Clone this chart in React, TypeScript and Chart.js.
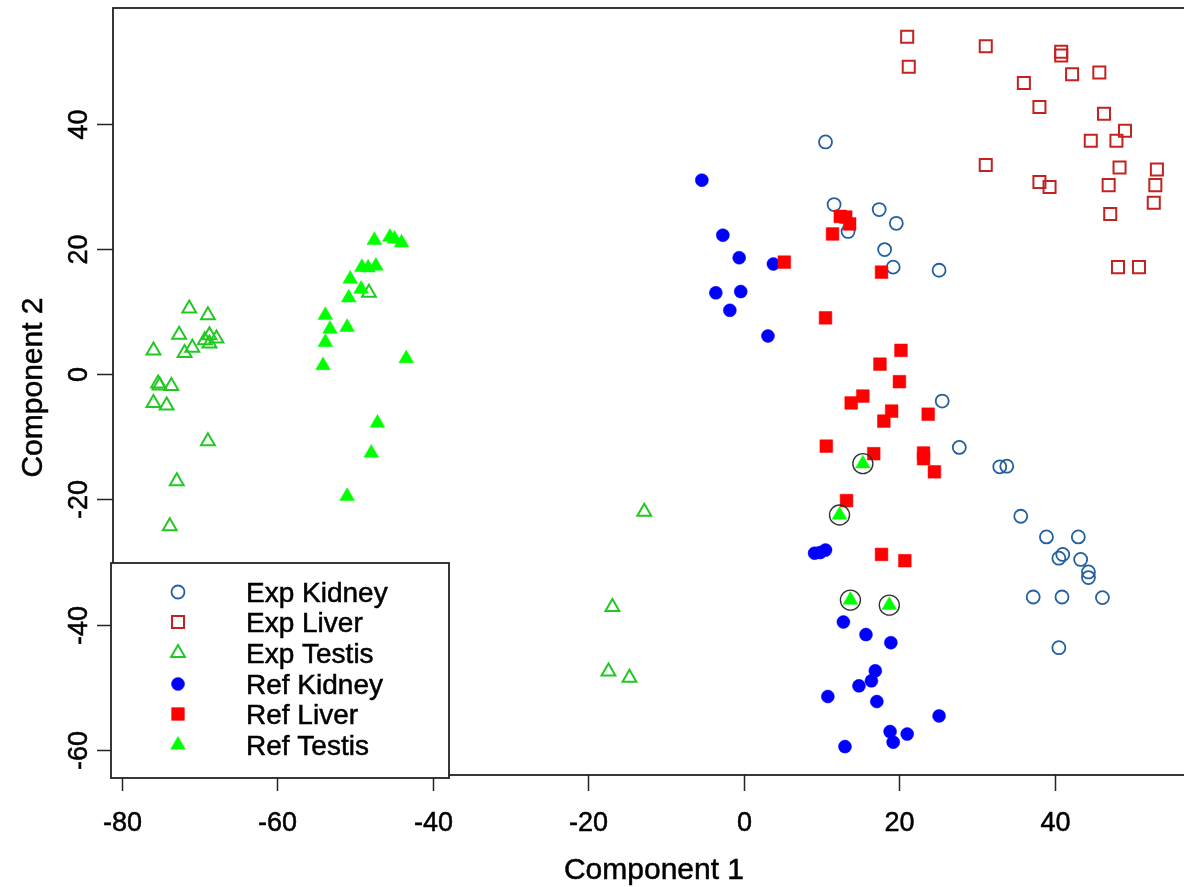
import React, { useEffect, useRef } from 'react';
import { Chart, registerables } from 'chart.js';
import { drawPoint } from 'chart.js/helpers';

Chart.register(...registerables);

// Axis ticks
const X_TICKS = [-80, -60, -40, -20, 0, 20, 40];
const Y_TICKS = [-60, -40, -20, 0, 20, 40];
const X_RANGE = [-81.1, 58.0];
const Y_RANGE = [-64.04, 58.5];

// Experimental samples
const expKidneyX = [10.5, 11.6, 13.4, 17.4, 19.6, 18.1, 19.2, 25.1, 25.5, 27.7, 32.9, 33.8, 35.6, 38.9, 43.0, 40.5, 41.0, 43.3, 44.3, 44.3, 37.2, 40.9, 46.1, 40.5];
const expKidneyY = [37.1, 27.1, 22.8, 26.3, 24.1, 19.9, 17.1, 16.6, -4.3, -11.7, -14.8, -14.7, -22.7, -26.0, -26.0, -29.4, -28.8, -29.6, -31.6, -32.5, -35.6, -35.6, -35.7, -43.7];

const expLiverX = [21.0, 21.2, 31.1, 40.8, 40.8, 42.2, 45.7, 36.0, 38.0, 46.3, 49.0, 44.6, 47.9, 48.3, 53.1, 31.1, 38.0, 39.3, 46.9, 52.9, 52.7, 47.1, 48.1, 50.8];
const expLiverY = [53.9, 49.1, 52.4, 51.5, 50.9, 47.9, 48.2, 46.5, 42.7, 41.6, 38.9, 37.3, 37.3, 33.0, 32.7, 33.4, 30.7, 29.9, 30.2, 30.2, 27.4, 25.6, 17.1, 17.1];

const expTestisX = [-71.3, -68.9, -72.6, -68.7, -67.8, -69.3, -68.7, -70.9, -71.9, -75.9, -75.3, -75.1, -73.6, -75.9, -74.2, -68.9, -72.9, -73.8, -48.2, -12.8, -16.9, -17.4, -14.7];
const expTestisY = [10.5, 9.4, 6.3, 6.2, 5.7, 5.4, 4.9, 4.2, 3.4, 3.8, -1.5, -1.8, -1.9, -4.6, -5.0, -10.7, -17.1, -24.3, 13.0, -22.0, -37.2, -47.5, -48.5];

// Reference samples
const refKidneyX = [-5.4, -2.7, -0.6, 3.8, -3.6, -0.4, -1.8, 3.1, 9.1, 9.8, 10.5, 12.8, 15.7, 18.9, 16.9, 16.4, 14.8, 10.8, 17.1, 25.1, 18.8, 21.0, 19.2, 13.0];
const refKidneyY = [31.0, 22.2, 18.6, 17.6, 13.0, 13.2, 10.2, 6.1, -28.6, -28.5, -28.1, -39.6, -41.6, -42.9, -47.4, -49.0, -49.8, -51.5, -52.3, -54.6, -57.1, -57.5, -58.8, -59.5];

const refLiverX = [12.4, 13.1, 13.6, 11.4, 5.2, 17.7, 10.5, 20.2, 17.5, 20.0, 15.3, 13.8, 19.0, 18.0, 23.7, 10.6, 16.7, 23.1, 23.1, 24.5, 13.2, 17.7, 20.7];
const refLiverY = [25.2, 25.1, 24.0, 22.4, 17.9, 16.3, 9.0, 3.8, 1.6, -1.2, -3.5, -4.6, -5.9, -7.5, -6.4, -11.5, -12.7, -12.6, -13.5, -15.6, -20.2, -28.8, -29.8];

const refTestisX = [-47.5, -45.5, -44.9, -44.0, -49.1, -48.3, -47.3, -50.6, -49.2, -50.8, -53.8, -53.2, -51.0, -53.8, -54.1, -43.4, -47.1, -47.9, -51.0, 15.3, 12.3, 13.7, 18.7];
const refTestisY = [21.4, 21.9, 21.6, 21.0, 17.1, 17.0, 17.3, 15.2, 13.6, 12.2, 9.4, 7.2, 7.5, 5.1, 1.4, 2.5, -7.8, -12.6, -19.5, -14.3, -22.5, -36.1, -36.9];

// Reference testis samples that fall inside the kidney/liver cloud (ringed)
const ringedIdx = [19, 20, 21, 22];

const LEGEND_LABELS = ['Exp Kidney', 'Exp Liver', 'Exp Testis', 'Ref Kidney', 'Ref Liver', 'Ref Testis'];

const C_EXP_KIDNEY = '#2360a0';
const C_EXP_LIVER = '#c42121';
const C_EXP_TESTIS = '#22c822';
const C_REF_KIDNEY = '#0000ff';
const C_REF_LIVER = '#ff0000';
const C_REF_TESTIS = '#00ff00';

const FONT = '"Liberation Sans", Arial, Helvetica, sans-serif';

const pts = (xs: number[], ys: number[]) => xs.map((x, i) => ({ x, y: ys[i] }));

const legendStyles = [
  { pointStyle: 'circle', radius: 6.5, fill: 'rgba(0,0,0,0)', stroke: C_EXP_KIDNEY, lw: 1.8 },
  { pointStyle: 'rect', radius: 8.5, fill: 'rgba(0,0,0,0)', stroke: C_EXP_LIVER, lw: 2 },
  { pointStyle: 'triangle', radius: 8, fill: 'rgba(0,0,0,0)', stroke: C_EXP_TESTIS, lw: 2 },
  { pointStyle: 'circle', radius: 6.5, fill: C_REF_KIDNEY, stroke: C_REF_KIDNEY, lw: 0.5 },
  { pointStyle: 'rect', radius: 9, fill: C_REF_LIVER, stroke: C_REF_LIVER, lw: 0.5 },
  { pointStyle: 'triangle', radius: 8.5, fill: C_REF_TESTIS, stroke: C_REF_TESTIS, lw: 0.5 },
];

// Draws a string with a faint outline so it reads slightly heavier
const heavyText = (ctx: CanvasRenderingContext2D, s: string, x: number, y: number) => {
  ctx.lineWidth = 0.5;
  ctx.strokeStyle = '#000';
  ctx.strokeText(s, x, y);
  ctx.fillText(s, x, y);
};

const framePlugin = {
  id: 'framePlugin',
  afterDraw(chart: any) {
    const { ctx, chartArea: a, scales } = chart;
    const xs = scales.x;
    const ys = scales.y;
    ctx.save();

    // plot box
    ctx.strokeStyle = '#222';
    ctx.lineWidth = 1.8;
    ctx.strokeRect(a.left, a.top, a.right - a.left, a.bottom - a.top);

    // x axis ticks and labels
    ctx.fillStyle = '#000';
    ctx.font = `27px ${FONT}`;
    ctx.textAlign = 'center';
    ctx.textBaseline = 'alphabetic';
    X_TICKS.forEach((v) => {
      const px = Math.round(xs.getPixelForValue(v)) + 0.5;
      ctx.strokeStyle = '#222';
      ctx.lineWidth = 1.5;
      ctx.beginPath();
      ctx.moveTo(px, a.bottom);
      ctx.lineTo(px, a.bottom + 16);
      ctx.stroke();
      heavyText(ctx, String(v), px, 831);
    });

    // y axis ticks and rotated labels
    Y_TICKS.forEach((v) => {
      const py = Math.round(ys.getPixelForValue(v)) + 0.5;
      ctx.strokeStyle = '#222';
      ctx.lineWidth = 1.5;
      ctx.beginPath();
      ctx.moveTo(a.left - 16, py);
      ctx.lineTo(a.left, py);
      ctx.stroke();
      ctx.save();
      ctx.translate(77, py);
      ctx.rotate(-Math.PI / 2);
      heavyText(ctx, String(v), 0, 10);
      ctx.restore();
    });

    // axis titles
    ctx.font = `30px ${FONT}`;
    heavyText(ctx, 'Component 1', (a.left + a.right) / 2, 879);
    ctx.save();
    ctx.translate(42, (a.top + a.bottom) / 2 - 4);
    ctx.rotate(-Math.PI / 2);
    heavyText(ctx, 'Component 2', 0, 0);
    ctx.restore();

    // legend
    const lx = 111, ly = 563, lw = 338, lh = 215;
    ctx.fillStyle = '#fff';
    ctx.fillRect(lx, ly, lw, lh);
    ctx.strokeStyle = '#222';
    ctx.lineWidth = 1.8;
    ctx.strokeRect(lx, ly, lw, lh);
    const rows = [592, 622, 653, 684, 714, 745];
    ctx.font = `28px ${FONT}`;
    ctx.textAlign = 'left';
    LEGEND_LABELS.forEach((label, i) => {
      const s = legendStyles[i];
      ctx.fillStyle = s.fill;
      ctx.strokeStyle = s.stroke;
      ctx.lineWidth = s.lw;
      drawPoint(ctx, { pointStyle: s.pointStyle as any, radius: s.radius, rotation: 0, borderWidth: s.lw }, 178, rows[i]);
      ctx.fillStyle = '#000';
      heavyText(ctx, label, 246, rows[i] + 10);
    });

    ctx.restore();
  },
};

export default function App() {
  const canvasRef = useRef<HTMLCanvasElement | null>(null);

  useEffect(() => {
    const canvas = canvasRef.current;
    if (!canvas) return;
    const ringedX = ringedIdx.map((i) => refTestisX[i]);
    const ringedY = ringedIdx.map((i) => refTestisY[i]);

    const chart = new Chart(canvas, {
      type: 'scatter',
      data: {
        datasets: [
          {
            label: 'Exp Kidney',
            data: pts(expKidneyX, expKidneyY),
            pointStyle: 'circle',
            pointRadius: 6.5,
            backgroundColor: 'rgba(0,0,0,0)',
            borderColor: C_EXP_KIDNEY,
            borderWidth: 1.8,
            order: 7,
          },
          {
            label: 'Exp Liver',
            data: pts(expLiverX, expLiverY),
            pointStyle: 'rect',
            pointRadius: 8.5,
            backgroundColor: 'rgba(0,0,0,0)',
            borderColor: C_EXP_LIVER,
            borderWidth: 2,
            order: 6,
          },
          {
            label: 'Exp Testis',
            data: pts(expTestisX, expTestisY),
            pointStyle: 'triangle',
            pointRadius: 8,
            backgroundColor: 'rgba(0,0,0,0)',
            borderColor: C_EXP_TESTIS,
            borderWidth: 2,
            order: 5,
          },
          {
            label: 'Ref Kidney',
            data: pts(refKidneyX, refKidneyY),
            pointStyle: 'circle',
            pointRadius: 6.5,
            backgroundColor: C_REF_KIDNEY,
            borderColor: C_REF_KIDNEY,
            borderWidth: 0.5,
            order: 4,
          },
          {
            label: 'Ref Liver',
            data: pts(refLiverX, refLiverY),
            pointStyle: 'rect',
            pointRadius: 9,
            backgroundColor: C_REF_LIVER,
            borderColor: C_REF_LIVER,
            borderWidth: 0.5,
            order: 3,
          },
          {
            label: 'ringed',
            data: pts(ringedX, ringedY),
            pointStyle: 'circle',
            pointRadius: 10,
            backgroundColor: 'rgba(0,0,0,0)',
            borderColor: '#333',
            borderWidth: 1.4,
            order: 2,
          },
          {
            label: 'Ref Testis',
            data: pts(refTestisX, refTestisY),
            pointStyle: 'triangle',
            pointRadius: 8.5,
            backgroundColor: C_REF_TESTIS,
            borderColor: C_REF_TESTIS,
            borderWidth: 0.5,
            order: 1,
          },
        ],
      },
      options: {
        responsive: false,
        animation: false,
        events: [],
        layout: { autoPadding: false, padding: { left: 113, top: 8, right: 1, bottom: 112 } },
        plugins: { legend: { display: false }, tooltip: { enabled: false } },
        scales: {
          x: { type: 'linear', min: X_RANGE[0], max: X_RANGE[1], display: false },
          y: { type: 'linear', min: Y_RANGE[0], max: Y_RANGE[1], display: false },
        },
      },
      plugins: [framePlugin],
    });
    return () => chart.destroy();
  }, []);

  return (
    <div
      style={{
        position: 'fixed',
        left: 0,
        top: 0,
        width: 1184,
        height: 887,
        overflow: 'hidden',
        background: '#fff',
      }}
    >
      <canvas ref={canvasRef} width={1196} height={887} style={{ display: 'block' }} />
    </div>
  );
}
